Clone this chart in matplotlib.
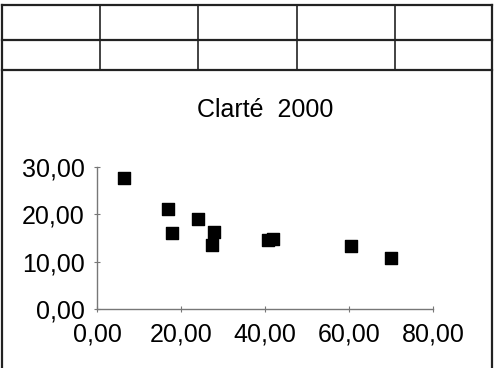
import matplotlib
matplotlib.use('Agg')
import matplotlib.pyplot as plt
from matplotlib.lines import Line2D
from matplotlib.ticker import FuncFormatter

# Data
x_vals = [6.4, 17.0, 17.9, 24.0, 27.9, 27.4, 40.7, 41.9, 60.5, 70.0]
y_vals = [27.7, 21.1, 16.1, 19.0, 16.3, 13.5, 14.6, 14.8, 13.3, 10.8]
x_ticks = [0, 20, 40, 60, 80]
y_ticks = [0, 10, 20, 30]
title = 'Clarté  2000'

plt.rcParams['font.family'] = ['Liberation Sans', 'DejaVu Sans']

W, H = 495, 368
fig = plt.figure(figsize=(W / 100, H / 100), dpi=100)

def fx(px):
    return px / W

def fy(py):
    return 1 - py / H

# spreadsheet grid above the chart
lw = 1.6
for py in [5, 40, 70]:
    fig.add_artist(Line2D([fx(2), fx(492)], [fy(py), fy(py)], color='#222222', lw=lw))
for px in [100, 198, 297, 395]:
    fig.add_artist(Line2D([fx(px), fx(px)], [fy(5), fy(70)], color='#222222', lw=1.2))
for px in [2, 492]:
    fig.add_artist(Line2D([fx(px), fx(px)], [fy(5), fy(368)], color='#222222', lw=lw))

ax = fig.add_axes([fx(97), fy(309), fx(433) - fx(97), fy(167) - fy(309)])
ax.scatter(x_vals, y_vals, marker='s', s=85, color='black', clip_on=False, zorder=3)

ax.set_xlim(0, 80)
ax.set_ylim(0, 30)
ax.set_xticks(x_ticks)
ax.set_yticks(y_ticks)
fmt = FuncFormatter(lambda v, p: f'{v:.2f}'.replace('.', ','))
ax.xaxis.set_major_formatter(fmt)
ax.yaxis.set_major_formatter(fmt)

for side in ['top', 'right']:
    ax.spines[side].set_visible(False)
for side in ['left', 'bottom']:
    ax.spines[side].set_color('#777777')
    ax.spines[side].set_linewidth(1.0)
ax.tick_params(axis='both', direction='inout', length=4, color='#777777', labelsize=18)
ax.tick_params(axis='x', pad=8)
ax.tick_params(axis='y', pad=7)
ax.set_facecolor('none')

fig.text(fx(265), fy(110), title, ha='center', va='center', fontsize=18)

fig.savefig('out.png', dpi=100)
